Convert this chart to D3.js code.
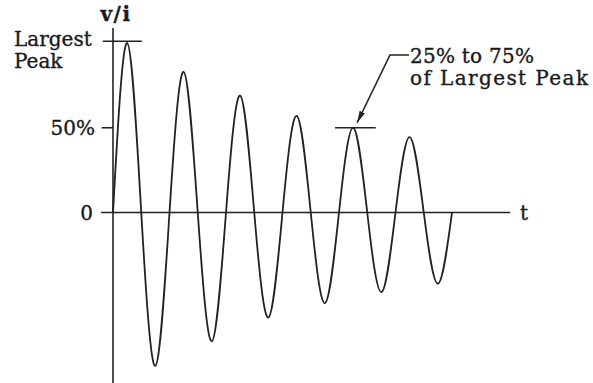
<!DOCTYPE html>
<html>
<head>
<meta charset="utf-8">
<script src="https://cdn.jsdelivr.net/npm/d3@7"></script>
<style>
  body { margin: 0; background: #fff; }
  text { font-family: "DejaVu Serif", serif; fill: #1a1a1a; stroke: #1a1a1a; stroke-width: 0.35px; }
</style>
</head>
<body>
<div id="chart"></div>
<script>
// damped oscillation, values in % of the largest peak, time in cycles
const peakValues = [100, 83, 69, 57, 50, 44.5]
const troughValues = [-90.5, -76, -62, -53.5, -47, -42]
const yTicks = [{ v: 50, label: '50%' }, { v: 0, label: '0' }]
const peakLabel = ['Largest', 'Peak']
const noteLabel = ['25% to 75%', 'of Largest Peak']
const noteWidths = [124, 178] // the original set these wide
const notePeak = 4 // index of the peak the note points to

const W = 593, H = 383

// build the point series: zero crossing, peak, zero crossing, trough, ...
let pts = [{ t: 0, v: 0 }]
peakValues.forEach((p, i) => {
    pts.push({ t: i + 0.25, v: p })
    pts.push({ t: i + 0.5, v: 0 })
    pts.push({ t: i + 0.75, v: troughValues[i] })
    pts.push({ t: i + 1, v: 0 })
})

const x = d3.scaleLinear().domain([0, 6]).range([113, 452])
const y = d3.scaleLinear().domain([-100, 100]).range([382, 43])

var svg = d3.select('#chart').append('svg')
    .attr('width', W)
    .attr('height', H)

const ink = '#222'

// axes
svg.append('line')
    .attr('x1', x(0)).attr('x2', x(0))
    .attr('y1', y(108.8)).attr('y2', H)
    .attr('stroke', ink).attr('stroke-width', 1.6)
svg.append('line')
    .attr('x1', x(-0.21)).attr('x2', x(7.03))
    .attr('y1', y(0)).attr('y2', y(0))
    .attr('stroke', ink).attr('stroke-width', 1.6)

// 50% tick
svg.append('line')
    .attr('x1', x(-0.2)).attr('x2', x(0))
    .attr('y1', y(50)).attr('y2', y(50))
    .attr('stroke', ink).attr('stroke-width', 1.6)

// largest peak marker
svg.append('line')
    .attr('x1', x(-0.18)).attr('x2', x(0.51))
    .attr('y1', y(101)).attr('y2', y(101))
    .attr('stroke', ink).attr('stroke-width', 1.6)

// waveform
const line = d3.line()
    .x(d => x(d.t))
    .y(d => y(d.v))
    .curve(d3.curveNatural)

svg.append('path')
    .datum(pts)
    .attr('d', line)
    .attr('fill', 'none')
    .attr('stroke', ink)
    .attr('stroke-width', 1.8)

// marker on the annotated peak
const tp = notePeak + 0.25
svg.append('line')
    .attr('x1', x(tp - 0.32)).attr('x2', x(tp + 0.4))
    .attr('y1', y(peakValues[notePeak])).attr('y2', y(peakValues[notePeak]))
    .attr('stroke', ink).attr('stroke-width', 1.6)

// arrow
svg.append('defs').append('marker')
    .attr('id', 'head')
    .attr('viewBox', '0 0 12 6')
    .attr('refX', 12).attr('refY', 3)
    .attr('markerWidth', 12).attr('markerHeight', 6)
    .attr('markerUnits', 'userSpaceOnUse')
    .attr('orient', 'auto')
    .append('path')
    .attr('d', 'M0,0 L12,3 L0,6 Z')
    .attr('fill', ink)

svg.append('path')
    .attr('d', `M409,55 L390,55 L${x(tp) + 4},${y(peakValues[notePeak]) - 5}`)
    .attr('fill', 'none')
    .attr('stroke', ink).attr('stroke-width', 1.6)
    .attr('marker-end', 'url(#head)')

// labels
svg.append('text')
    .attr('x', 116).attr('y', 21)
    .attr('text-anchor', 'middle')
    .attr('font-size', 20)
    .attr('font-weight', 'bold')
    .attr('letter-spacing', 1.5)
    .text('v/i')

svg.selectAll('.tick-label').data(yTicks)
    .enter()
    .append('text')
    .attr('class', 'tick-label')
    .attr('x', d => d.v === 0 ? 93 : 95)
    .attr('y', d => y(d.v))
    .attr('dy', '0.36em')
    .attr('text-anchor', 'end')
    .attr('font-size', 20)
    .text(d => d.label)

svg.append('text')
    .attr('x', 520).attr('y', y(0))
    .attr('dy', '0.36em')
    .attr('font-size', 20)
    .text('t')

svg.selectAll('.peak-label').data(peakLabel)
    .enter()
    .append('text')
    .attr('class', 'peak-label')
    .attr('x', 14)
    .attr('y', (d, i) => 46 + i * 22)
    .attr('font-size', 20)
    .text(d => d)

svg.selectAll('.note-label').data(noteLabel)
    .enter()
    .append('text')
    .attr('class', 'note-label')
    .attr('x', 410)
    .attr('y', (d, i) => 63 + i * 22)
    .attr('font-size', 20)
    .attr('textLength', (d, i) => noteWidths[i])
    .attr('lengthAdjust', 'spacing')
    .text(d => d)
</script>
</body>
</html>
